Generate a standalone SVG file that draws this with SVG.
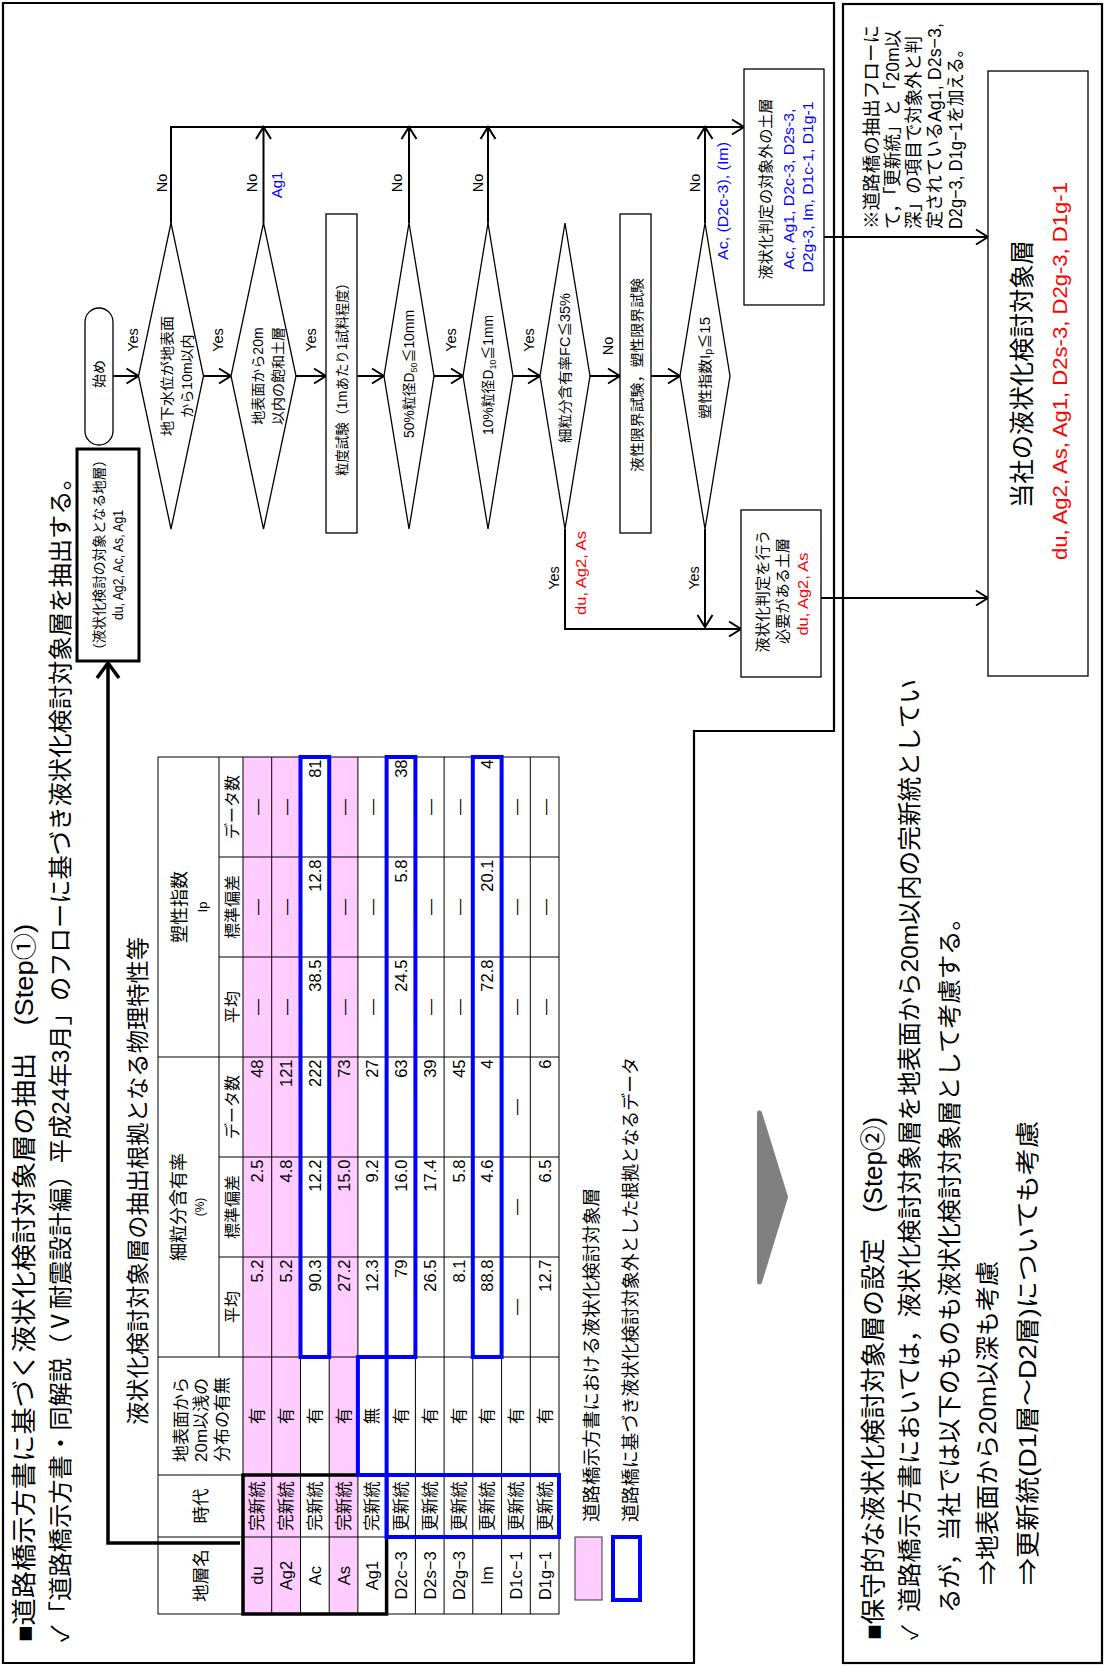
<svg xmlns="http://www.w3.org/2000/svg" width="1104" height="1666" viewBox="0 0 1104 1666">
<defs>
<style>
text{font-family:"Liberation Sans","Noto Sans CJK JP","DejaVu Sans",sans-serif;fill:#000}
.fr{fill:none;stroke:#000;stroke-width:2.2}
.sh{fill:#fff;stroke:#000;stroke-width:1.3}
.ln{fill:none;stroke:#000;stroke-width:2}
.g{stroke:#000;stroke-width:1;fill:none}
.bl{fill:none;stroke:#0000ff;stroke-width:4}
.bk{fill:none;stroke:#000;stroke-width:3.5}
.pk{fill:#ffccff}
.m{text-anchor:middle}
.e{text-anchor:end}
.blu{fill:#0000ff}
.red{fill:#ff0000}
</style>
<marker id="ah" markerUnits="userSpaceOnUse" markerWidth="16" markerHeight="18" viewBox="-14 -9 16 18" refX="0" refY="0" orient="auto"><path d="M-12,-7.5 L0,0 L-12,7.5" fill="none" stroke="#000" stroke-width="2"/></marker>
<marker id="ahb" markerUnits="userSpaceOnUse" markerWidth="20" markerHeight="26" viewBox="-18 -13 20 26" refX="0" refY="0" orient="auto"><path d="M-15,-11 L0,0 L-15,11" fill="none" stroke="#000" stroke-width="3.5"/></marker>
</defs>
<g transform="translate(0,1666) rotate(-90)">
<g id="frames">
<path class="fr" d="M3,3 H1663 V834 H935 V694 H3 Z"/>
<rect class="fr" x="3" y="843" width="1659" height="259"/>
</g>
<g id="titles">
<text x="24" y="32.5" font-size="25" textLength="718" lengthAdjust="spacingAndGlyphs">■道路橋示方書に基づく液状化検討対象層の抽出　(Step①)</text>
<text x="24" y="69" font-size="24" textLength="1176" lengthAdjust="spacingAndGlyphs">✓「道路橋示方書・同解説（Ⅴ耐震設計編）平成24年3月」のフローに基づき液状化検討対象層を抽出する。</text>
<text x="241" y="146" font-size="23" textLength="488" lengthAdjust="spacingAndGlyphs">液状化検討対象層の抽出根拠となる物理特性等</text>
</g>
<g id="table">
<rect class="pk" x="52" y="243" width="857" height="28.7"/>
<rect class="pk" x="52" y="271.7" width="857" height="28.8"/>
<rect class="pk" x="52" y="329.2" width="857" height="28.7"/>
<rect class="g" x="52" y="158" width="857" height="401"/>
<path class="g" d="M129,158V559 M191,158V559 M309,158V559 M609,158V559 M409,219V559 M509,219V559 M709,219V559 M809,219V559 M309,219H909 M52,243H909 M52,271.7H909 M52,300.5H909 M52,329.2H909 M52,357.9H909 M52,386.6H909 M52,415.4H909 M52,444.1H909 M52,472.8H909 M52,501.6H909 M52,530.3H909"/>
<text x="90.5" y="207" class="m" font-size="17.5">地層名</text>
<text x="160" y="207" class="m" font-size="17.5">時代</text>
<text x="204" y="186.5" font-size="17">地表面から</text>
<text x="204" y="207" font-size="17">20m以浅の</text>
<text x="204" y="227.5" font-size="17">分布の有無</text>
<text x="459" y="185" class="m" font-size="18">細粒分含有率</text>
<text x="459" y="203.5" class="m" font-size="12">(%)</text>
<text x="759" y="185.5" class="m" font-size="18">塑性指数</text>
<text x="759" y="206.5" class="m" font-size="13">Ip</text>
<g font-size="16" class="m">
<text x="359" y="238">平均</text><text x="459" y="238">標準偏差</text><text x="559" y="238">データ数</text>
<text x="659" y="238">平均</text><text x="759" y="238">標準偏差</text><text x="859" y="238">データ数</text>
</g>
<g font-size="16.5" class="m">
<text x="90.5" y="263.4">du</text><text x="90.5" y="292.1">Ag2</text><text x="90.5" y="320.8">Ac</text><text x="90.5" y="349.6">As</text><text x="90.5" y="378.3">Ag1</text><text x="90.5" y="407">D2c−3</text><text x="90.5" y="435.7">D2s−3</text><text x="90.5" y="464.5">D2g−3</text><text x="90.5" y="493.2">Im</text><text x="90.5" y="521.9">D1c−1</text><text x="90.5" y="550.6">D1g−1</text>
</g>
<g font-size="16.5" class="m">
<text x="160" y="263.4">完新統</text><text x="160" y="292.1">完新統</text><text x="160" y="320.8">完新統</text><text x="160" y="349.6">完新統</text><text x="160" y="378.3">完新統</text><text x="160" y="407">更新統</text><text x="160" y="435.7">更新統</text><text x="160" y="464.5">更新統</text><text x="160" y="493.2">更新統</text><text x="160" y="521.9">更新統</text><text x="160" y="550.6">更新統</text>
<text x="250" y="263.4">有</text><text x="250" y="292.1">有</text><text x="250" y="320.8">有</text><text x="250" y="349.6">有</text><text x="250" y="378.3">無</text><text x="250" y="407">有</text><text x="250" y="435.7">有</text><text x="250" y="464.5">有</text><text x="250" y="493.2">有</text><text x="250" y="521.9">有</text><text x="250" y="550.6">有</text>
</g>
<g font-size="16.5" class="e">
<text x="406.5" y="263.4">5.2</text><text x="506.5" y="263.4">2.5</text><text x="606.5" y="263.4">48</text>
<text x="406.5" y="292.1">5.2</text><text x="506.5" y="292.1">4.8</text><text x="606.5" y="292.1">121</text>
<text x="406.5" y="320.8">90.3</text><text x="506.5" y="320.8">12.2</text><text x="606.5" y="320.8">222</text><text x="706.5" y="320.8">38.5</text><text x="806.5" y="320.8">12.8</text><text x="906.5" y="320.8">81</text>
<text x="406.5" y="349.6">27.2</text><text x="506.5" y="349.6">15.0</text><text x="606.5" y="349.6">73</text>
<text x="406.5" y="378.3">12.3</text><text x="506.5" y="378.3">9.2</text><text x="606.5" y="378.3">27</text>
<text x="406.5" y="407">79</text><text x="506.5" y="407">16.0</text><text x="606.5" y="407">63</text><text x="706.5" y="407">24.5</text><text x="806.5" y="407">5.8</text><text x="906.5" y="407">38</text>
<text x="406.5" y="435.7">26.5</text><text x="506.5" y="435.7">17.4</text><text x="606.5" y="435.7">39</text>
<text x="406.5" y="464.5">8.1</text><text x="506.5" y="464.5">5.8</text><text x="606.5" y="464.5">45</text>
<text x="406.5" y="493.2">88.8</text><text x="506.5" y="493.2">4.6</text><text x="606.5" y="493.2">4</text><text x="706.5" y="493.2">72.8</text><text x="806.5" y="493.2">20.1</text><text x="906.5" y="493.2">4</text>
<text x="406.5" y="550.6">12.7</text><text x="506.5" y="550.6">6.5</text><text x="606.5" y="550.6">6</text>
</g>
<g font-size="16" class="m">
<text x="659" y="263.4">―</text><text x="759" y="263.4">―</text><text x="859" y="263.4">―</text>
<text x="659" y="292.1">―</text><text x="759" y="292.1">―</text><text x="859" y="292.1">―</text>
<text x="659" y="349.6">―</text><text x="759" y="349.6">―</text><text x="859" y="349.6">―</text>
<text x="659" y="378.3">―</text><text x="759" y="378.3">―</text><text x="859" y="378.3">―</text>
<text x="659" y="435.7">―</text><text x="759" y="435.7">―</text><text x="859" y="435.7">―</text>
<text x="659" y="464.5">―</text><text x="759" y="464.5">―</text><text x="859" y="464.5">―</text>
<text x="359" y="521.9">―</text><text x="459" y="521.9">―</text><text x="559" y="521.9">―</text><text x="659" y="521.9">―</text><text x="759" y="521.9">―</text><text x="859" y="521.9">―</text>
<text x="659" y="550.6">―</text><text x="759" y="550.6">―</text><text x="859" y="550.6">―</text>
</g>
<rect class="bk" x="52" y="243" width="139" height="143.6"/>
<rect class="bl" x="309" y="300.5" width="600" height="28.7"/>
<rect class="bl" x="309" y="386.6" width="600" height="28.8"/>
<rect class="bl" x="309" y="472.8" width="600" height="28.8"/>
<rect class="bl" x="191" y="357.9" width="118" height="28.7"/>
<rect class="bl" x="129" y="386.6" width="62" height="172.4"/>
</g>
<g id="legend">
<rect x="66" y="575" width="63" height="27" fill="#ffccff" stroke="#333" stroke-width="1"/>
<rect class="bl" x="66" y="613" width="63" height="27" fill="#fff"/>
<text x="144" y="598" font-size="18" textLength="334" lengthAdjust="spacingAndGlyphs">道路橋示方書における液状化検討対象層</text>
<text x="144" y="637" font-size="18" textLength="465" lengthAdjust="spacingAndGlyphs">道路橋に基づき液状化検討対象外とした根拠となるデータ</text>
</g>
<g id="connectors">
<path class="ln" marker-end="url(#ah)" d="M1290,113V138.5"/>
<path class="ln" marker-end="url(#ah)" d="M1290,203.5V231"/>
<path class="ln" marker-end="url(#ah)" d="M1290,296V326"/>
<path class="ln" marker-end="url(#ah)" d="M1290,357V384"/>
<path class="ln" marker-end="url(#ah)" d="M1290,434V463"/>
<path class="ln" marker-end="url(#ah)" d="M1290,513V540"/>
<path class="ln" marker-end="url(#ah)" d="M1290,590V620"/>
<path class="ln" marker-end="url(#ah)" d="M1290,651V680"/>
<path class="ln" marker-end="url(#ah)" d="M1443,171H1539V744"/>
<path class="ln" marker-end="url(#ah)" d="M1443,263.5H1539"/>
<path class="ln" marker-end="url(#ah)" d="M1443,409H1539"/>
<path class="ln" marker-end="url(#ah)" d="M1443,488H1539"/>
<path class="ln" marker-end="url(#ah)" d="M1443,705H1539"/>
<path class="ln" marker-end="url(#ah)" d="M1137,565H1037V741"/>
<path class="ln" marker-end="url(#ah)" d="M1137,705H1039"/>
<path class="ln" marker-end="url(#ah)" d="M1429,824V988"/>
<path class="ln" marker-end="url(#ah)" d="M1068,821V988"/>
<path fill="none" stroke="#000" stroke-width="3.5" marker-end="url(#ahb)" d="M123,240V108H1003"/>
<path d="M553,759.5 L384,759.5 L469,785.5 Z" fill="#808080" stroke="#808080" stroke-width="5" stroke-linejoin="round"/>
</g>
<g id="labels" font-size="14.5" class="m">
<text x="1326" y="137.5">Yes</text><text x="1326" y="222.5">Yes</text><text x="1326" y="315.5">Yes</text><text x="1326" y="455.5">Yes</text><text x="1326" y="533.5">Yes</text>
<text x="1320" y="612.5">No</text>
<text x="1483" y="167">No</text><text x="1483" y="257">No</text><text x="1483" y="402">No</text><text x="1483" y="483">No</text><text x="1483" y="700">No</text>
<text x="1088" y="558.5">Yes</text><text x="1088" y="698.5">Yes</text>
<text x="1481" y="281.5" font-size="15" class="blu">Ag1</text>
<text x="1093" y="585.5" font-size="15" class="red" textLength="84" lengthAdjust="spacingAndGlyphs">du, Ag2, As</text>
<text x="1465" y="727.5" font-size="15" class="blu" textLength="118" lengthAdjust="spacingAndGlyphs">Ac, (D2c-3), (Im)</text>
</g>
<g id="n-target">
<rect x="1005" y="77" width="212" height="62" fill="#fff" stroke="#000" stroke-width="3"/>
<text x="1009" y="104" font-size="14" textLength="204" lengthAdjust="spacingAndGlyphs">（液状化検討の対象となる地層）</text>
<text x="1101" y="122.5" font-size="14" class="m" textLength="110" lengthAdjust="spacingAndGlyphs">du, Ag2, Ac, As, Ag1</text>
</g>
<g id="n-start">
<rect class="sh" x="1221" y="85" width="137" height="28" rx="14"/>
<text x="1292" y="104" font-size="14" class="m">始め</text>
</g>
<g id="n-d1">
<polygon class="sh" points="1137,171 1290,138.5 1443,171 1290,203.5"/>
<text x="1290" y="171.5" font-size="14" class="m" textLength="120" lengthAdjust="spacingAndGlyphs">地下水位が地表面</text>
<text x="1290" y="191.5" font-size="14" class="m">から10m以内</text>
</g>
<g id="n-d2">
<polygon class="sh" points="1137,263.5 1290,231 1443,263.5 1290,296"/>
<text x="1290" y="263" font-size="14" class="m">地表面から20m</text>
<text x="1290" y="283" font-size="14" class="m">以内の飽和土層</text>
</g>
<g id="n-grain">
<rect class="sh" x="1133" y="326" width="319" height="31"/>
<text x="1290" y="347" font-size="14" class="m" textLength="200" lengthAdjust="spacingAndGlyphs">粒度試験（1mあたり1試料程度）</text>
</g>
<g id="n-d3">
<polygon class="sh" points="1137,409 1290,384 1443,409 1290,434"/>
<text x="1292" y="413.5" font-size="14" class="m" textLength="128" lengthAdjust="spacingAndGlyphs">50%粒径D<tspan font-size="9" dy="3">50</tspan><tspan dy="-3">≦10mm</tspan></text>
</g>
<g id="n-d4">
<polygon class="sh" points="1137,488 1290,463 1443,488 1290,513"/>
<text x="1291" y="492.5" font-size="14" class="m" textLength="120" lengthAdjust="spacingAndGlyphs">10%粒径D<tspan font-size="9" dy="3">10</tspan><tspan dy="-3">≦1mm</tspan></text>
</g>
<g id="n-d5">
<polygon class="sh" points="1137,565 1290,540 1443,565 1290,590"/>
<text x="1298" y="570" font-size="14" class="m" textLength="150" lengthAdjust="spacingAndGlyphs">細粒分含有率FC≦35%</text>
</g>
<g id="n-limit">
<rect class="sh" x="1133" y="620" width="319" height="31"/>
<text x="1291" y="642" font-size="14" class="m" textLength="194" lengthAdjust="spacingAndGlyphs">液性限界試験，塑性限界試験</text>
</g>
<g id="n-d6">
<polygon class="sh" points="1137,705 1290,680 1443,705 1290,730"/>
<text x="1298" y="710" font-size="14" class="m" textLength="102" lengthAdjust="spacingAndGlyphs">塑性指数I<tspan font-size="10" dy="2">p</tspan><tspan dy="-2">≦15</tspan></text>
</g>
<g id="n-excluded">
<rect class="sh" x="1361" y="744" width="236" height="80"/>
<text x="1477" y="770.5" font-size="15" class="m" textLength="181" lengthAdjust="spacingAndGlyphs">液状化判定の対象外の土層</text>
<text x="1477" y="794" font-size="14.5" class="m blu" textLength="161" lengthAdjust="spacingAndGlyphs">Ac, Ag1, D2c-3, D2s-3,</text>
<text x="1479" y="813" font-size="14.5" class="m blu" textLength="171" lengthAdjust="spacingAndGlyphs">D2g-3, Im, D1c-1, D1g-1</text>
</g>
<g id="n-judge">
<rect class="sh" x="989" y="741" width="167" height="80"/>
<text x="1075" y="767.5" font-size="15" class="m" textLength="123" lengthAdjust="spacingAndGlyphs">液状化判定を行う</text>
<text x="1075" y="787.5" font-size="15" class="m" textLength="106" lengthAdjust="spacingAndGlyphs">必要がある土層</text>
<text x="1072" y="808" font-size="15" class="m red" textLength="83" lengthAdjust="spacingAndGlyphs">du, Ag2, As</text>
</g>
<g id="note">
<text x="1437" y="878" font-size="18.5" textLength="204" lengthAdjust="spacingAndGlyphs">※道路橋の抽出フローに</text>
<text x="1437" y="899" font-size="18.5" textLength="199" lengthAdjust="spacingAndGlyphs">て，「更新統」と「20m以</text>
<text x="1437" y="920" font-size="18.5" textLength="193" lengthAdjust="spacingAndGlyphs">深」の項目で対象外と判</text>
<text x="1437" y="941" font-size="18.5" textLength="206" lengthAdjust="spacingAndGlyphs">定されているAg1, D2s−3,</text>
<text x="1437" y="962" font-size="18.5" textLength="188" lengthAdjust="spacingAndGlyphs">D2g−3, D1g−1を加える。</text>
</g>
<g id="n-result">
<rect class="sh" x="990" y="988" width="605" height="100"/>
<text x="1292" y="1031" font-size="25" class="m" textLength="268" lengthAdjust="spacingAndGlyphs">当社の液状化検討対象層</text>
<text x="1295" y="1067" font-size="20" class="m red" textLength="378" lengthAdjust="spacingAndGlyphs">du, Ag2, As, Ag1, D2s-3, D2g-3, D1g-1</text>
</g>
<g id="step2">
<text x="26" y="881.5" font-size="25" textLength="523" lengthAdjust="spacingAndGlyphs">■保守的な液状化検討対象層の設定　(Step②)</text>
<text x="26" y="918" font-size="22">✓</text>
<text x="54" y="918" font-size="24" textLength="933" lengthAdjust="spacingAndGlyphs">道路橋示方書においては，液状化検討対象層を地表面から20m以内の完新統としてい</text>
<text x="53" y="958" font-size="24" textLength="707" lengthAdjust="spacingAndGlyphs">るが，当社では以下のものも液状化検討対象層として考慮する。</text>
<text x="81" y="996" font-size="24" textLength="324" lengthAdjust="spacingAndGlyphs">⇒地表面から20m以深も考慮</text>
<text x="81" y="1036" font-size="24" textLength="464" lengthAdjust="spacingAndGlyphs">⇒更新統(D1層～D2層)についても考慮</text>
</g>
</g>
</svg>
